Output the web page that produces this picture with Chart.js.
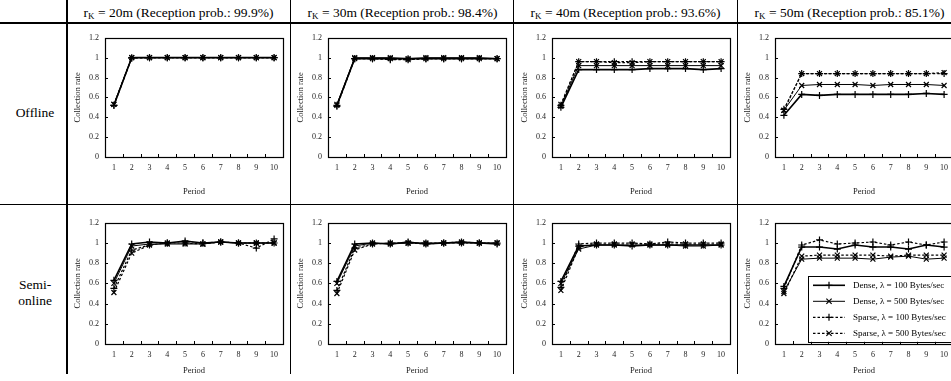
<!DOCTYPE html>
<html>
<head>
<meta charset="utf-8">
<script src="https://cdn.jsdelivr.net/npm/chart.js@4.4.0/dist/chart.umd.min.js"></script>
<style>
  body { margin: 0; width: 951px; height: 381px; overflow: hidden; background: #fff; position: relative; font-family: "Liberation Serif", "Times New Roman", serif; color: #000; }
  .hl { position: absolute; left: 0; width: 951px; background: #000; }
  .vl { position: absolute; top: 0; background: #000; }
  .head { position: absolute; top: 4px; width: 223px; text-align: center; font-size: 13.5px; line-height: 18px; white-space: nowrap; }
  .head sub { font-size: 9px; vertical-align: -2px; }
  .row { position: absolute; left: 0; width: 70px; text-align: center; font-size: 13.5px; line-height: 16px; }
  canvas { position: absolute; }
</style>
</head>
<body>
<div class="hl" style="top:22px;height:1.5px"></div>
<div class="hl" style="top:204px;height:1px"></div>
<div class="vl" style="left:66px;width:2px;height:374px"></div>
<div class="vl" style="left:290px;width:1px;height:374px"></div>
<div class="vl" style="left:513px;width:1px;height:374px"></div>
<div class="vl" style="left:737px;width:1px;height:374px"></div>

<div class="head" style="left:67px">r<sub>K</sub> = 20m (Reception prob.: 99.9%)</div>
<div class="head" style="left:291px">r<sub>K</sub> = 30m (Reception prob.: 98.4%)</div>
<div class="head" style="left:514px">r<sub>K</sub> = 40m (Reception prob.: 93.6%)</div>
<div class="head" style="left:738px">r<sub>K</sub> = 50m (Reception prob.: 85.1%)</div>

<div class="row" style="top:105px">Offline</div>
<div class="row" style="top:277px">Semi-<br>online</div>

<canvas id="c0" width="220" height="174" style="left:69px;top:27px"></canvas>
<canvas id="c1" width="220" height="174" style="left:292px;top:27px"></canvas>
<canvas id="c2" width="220" height="174" style="left:516px;top:27px"></canvas>
<canvas id="c3" width="220" height="174" style="left:739px;top:27px"></canvas>
<canvas id="c4" width="220" height="168" style="left:69px;top:212px"></canvas>
<canvas id="c5" width="220" height="168" style="left:292px;top:212px"></canvas>
<canvas id="c6" width="220" height="168" style="left:516px;top:212px"></canvas>
<canvas id="c7" width="220" height="168" style="left:739px;top:212px"></canvas>

<script>
const periods = ['1', '2', '3', '4', '5', '6', '7', '8', '9', '10'];
const seriesNames = [
  'Dense, \u03bb = 100 Bytes/sec',
  'Dense, \u03bb = 500 Bytes/sec',
  'Sparse, \u03bb = 100 Bytes/sec',
  'Sparse, \u03bb = 500 Bytes/sec'
];

// each panel: [dense100, dense500, sparse100, sparse500]
const offline20 = [
  [0.52, 1.00, 1.00, 1.00, 1.00, 1.00, 1.00, 1.00, 1.00, 1.00],
  [0.53, 1.00, 1.00, 1.00, 1.00, 1.00, 1.00, 1.00, 1.00, 1.00],
  [0.52, 0.995, 1.00, 1.00, 1.00, 1.00, 1.00, 1.00, 1.00, 1.00],
  [0.53, 1.00, 1.00, 1.00, 1.00, 1.00, 1.00, 1.00, 1.00, 1.00]
];
const offline30 = [
  [0.52, 0.99, 0.99, 0.99, 0.99, 0.99, 0.99, 0.99, 0.99, 0.99],
  [0.53, 1.00, 1.00, 1.00, 0.99, 1.00, 1.00, 1.00, 1.00, 0.99],
  [0.51, 0.99, 0.99, 0.98, 0.98, 0.99, 0.99, 0.99, 0.99, 0.99],
  [0.52, 0.99, 0.99, 0.99, 0.98, 0.99, 0.99, 0.99, 0.99, 0.99]
];
const offline40 = [
  [0.50, 0.88, 0.88, 0.88, 0.88, 0.89, 0.89, 0.89, 0.88, 0.89],
  [0.51, 0.92, 0.92, 0.92, 0.92, 0.92, 0.92, 0.92, 0.92, 0.92],
  [0.52, 0.96, 0.96, 0.96, 0.96, 0.96, 0.96, 0.96, 0.96, 0.96],
  [0.53, 0.96, 0.96, 0.95, 0.95, 0.96, 0.96, 0.96, 0.96, 0.96]
];
const offline50 = [
  [0.42, 0.63, 0.62, 0.63, 0.63, 0.63, 0.63, 0.63, 0.64, 0.63],
  [0.47, 0.72, 0.73, 0.73, 0.73, 0.72, 0.73, 0.73, 0.73, 0.72],
  [0.48, 0.84, 0.84, 0.84, 0.84, 0.84, 0.84, 0.84, 0.84, 0.84],
  [0.47, 0.84, 0.84, 0.84, 0.84, 0.84, 0.84, 0.84, 0.84, 0.85]
];
const semi20 = [
  [0.63, 0.99, 1.01, 1.00, 1.02, 1.00, 1.01, 1.00, 1.00, 1.00],
  [0.60, 0.97, 0.99, 0.99, 0.99, 0.99, 1.01, 1.00, 1.00, 1.00],
  [0.55, 0.93, 0.98, 1.00, 1.00, 1.00, 1.01, 1.00, 0.95, 1.04],
  [0.51, 0.90, 0.98, 1.00, 1.00, 0.99, 1.01, 1.00, 1.00, 1.00]
];
const semi30 = [
  [0.62, 0.99, 1.00, 0.99, 1.01, 0.99, 1.00, 1.01, 1.00, 0.99],
  [0.60, 0.97, 1.00, 0.99, 1.00, 1.00, 1.00, 1.00, 1.00, 1.00],
  [0.53, 0.95, 0.99, 1.00, 1.00, 1.00, 1.00, 1.00, 1.00, 1.00],
  [0.50, 0.93, 0.99, 1.00, 1.00, 0.99, 1.00, 1.01, 1.00, 1.00]
];
const semi40 = [
  [0.62, 0.97, 0.98, 0.98, 0.97, 0.98, 0.98, 0.98, 0.98, 0.98],
  [0.60, 0.94, 0.98, 0.98, 0.98, 0.98, 0.98, 0.97, 0.97, 0.98],
  [0.56, 0.99, 1.00, 1.00, 1.00, 0.99, 1.01, 1.00, 1.00, 1.00],
  [0.53, 0.96, 0.99, 0.99, 0.99, 0.99, 0.99, 0.99, 0.99, 0.99]
];
const semi50 = [
  [0.57, 0.96, 0.96, 0.94, 0.98, 0.96, 0.96, 0.94, 0.98, 0.96],
  [0.52, 0.84, 0.85, 0.85, 0.85, 0.84, 0.86, 0.87, 0.84, 0.85],
  [0.55, 0.98, 1.03, 0.99, 1.00, 1.01, 0.98, 1.01, 0.98, 1.01],
  [0.50, 0.87, 0.88, 0.88, 0.88, 0.88, 0.87, 0.88, 0.88, 0.88]
];

const FONT = '"Liberation Serif", "Times New Roman", serif';
const styles = [
  { borderWidth: 1.6, borderDash: [], pointStyle: 'cross' },
  { borderWidth: 1, borderDash: [], pointStyle: 'crossRot' },
  { borderWidth: 1.2, borderDash: [2.5, 2], pointStyle: 'cross' },
  { borderWidth: 1.2, borderDash: [2.5, 2], pointStyle: 'crossRot' }
];

// plot box and inward tick marks
const frame = {
  id: 'frame',
  beforeDatasetsDraw(chart) {
    const { ctx, chartArea: a, scales: { x, y } } = chart;
    ctx.save();
    ctx.strokeStyle = '#000';
    ctx.lineWidth = 1.2;
    ctx.strokeRect(Math.round(a.left) + 0.5, Math.round(a.top) + 0.5,
      Math.round(a.right - a.left), Math.round(a.bottom - a.top));
    ctx.lineWidth = 1;
    ctx.beginPath();
    for (let i = 1; i < x.ticks.length; i++) {
      const px = Math.round((x.getPixelForTick(i - 1) + x.getPixelForTick(i)) / 2) + 0.5;
      ctx.moveTo(px, a.bottom);
      ctx.lineTo(px, a.bottom - 3);
    }
    y.ticks.forEach((t, i) => {
      const py = Math.round(y.getPixelForTick(i)) + 0.5;
      ctx.moveTo(a.left, py);
      ctx.lineTo(a.left + 3, py);
    });
    ctx.stroke();
    ctx.restore();
  }
};

function marker(ctx, style, x, y, r) {
  ctx.beginPath();
  if (style === 'cross') {
    ctx.moveTo(x - r, y); ctx.lineTo(x + r, y);
    ctx.moveTo(x, y - r); ctx.lineTo(x, y + r);
  } else {
    const d = r * 0.75;
    ctx.moveTo(x - d, y - d); ctx.lineTo(x + d, y + d);
    ctx.moveTo(x + d, y - d); ctx.lineTo(x - d, y + d);
  }
  ctx.stroke();
}

// legend box inside the last panel
const boxLegend = {
  id: 'boxLegend',
  afterDraw(chart) {
    const { ctx, chartArea: a } = chart;
    const bx = a.left + 33, by = a.top + 53;
    ctx.save();
    ctx.fillStyle = '#fff';
    ctx.fillRect(bx, by, 160, 66);
    ctx.strokeStyle = '#000';
    ctx.lineWidth = 1;
    ctx.strokeRect(Math.round(bx) + 0.5, Math.round(by) + 0.5, 160, 66);
    chart.data.datasets.forEach((ds, i) => {
      const ly = by + 9.5 + i * 16;
      ctx.strokeStyle = '#000';
      ctx.lineWidth = ds.borderWidth;
      ctx.setLineDash(ds.borderDash);
      ctx.beginPath();
      ctx.moveTo(bx + 5, ly);
      ctx.lineTo(bx + 37, ly);
      ctx.stroke();
      ctx.setLineDash([]);
      ctx.lineWidth = 1.2;
      marker(ctx, ds.pointStyle, bx + 21, ly, 3.5);
      ctx.fillStyle = '#000';
      ctx.font = '9px ' + FONT;
      ctx.textBaseline = 'middle';
      ctx.fillText(ds.label, bx + 45, ly);
    });
    ctx.restore();
  }
};

function makeChart(id, values, xHeight, withLegend) {
  const datasets = values.map((vals, i) => ({
    label: seriesNames[i],
    data: vals,
    borderColor: '#000',
    backgroundColor: '#000',
    borderWidth: styles[i].borderWidth,
    borderDash: styles[i].borderDash,
    pointStyle: styles[i].pointStyle,
    pointRadius: 3.5,
    pointBorderWidth: 1.2,
    pointBorderColor: '#000',
    tension: 0
  }));
  new Chart(document.getElementById(id), {
    type: 'line',
    data: { labels: periods, datasets: datasets },
    options: {
      responsive: false,
      animation: false,
      events: [],
      layout: { padding: { top: 8, right: 6, left: 0, bottom: 0 } },
      plugins: { legend: { display: false }, tooltip: { enabled: false } },
      scales: {
        x: {
          offset: true,
          grid: { display: false, drawTicks: false },
          border: { display: false },
          ticks: { font: { family: FONT, size: 8 }, color: '#222', padding: 6, maxRotation: 0, autoSkip: false },
          title: { display: true, text: 'Period', font: { family: FONT, size: 8.5 }, color: '#222', padding: { top: 0, bottom: 4 } },
          afterFit: s => { s.height = xHeight; }
        },
        y: {
          min: 0,
          max: 1.2,
          grid: { display: false, drawTicks: false },
          border: { display: false },
          ticks: {
            stepSize: 0.2,
            font: { family: FONT, size: 8 },
            color: '#222',
            padding: 6,
            callback: v => String(Math.round(v * 10) / 10)
          },
          title: { display: true, text: 'Collection rate', font: { family: FONT, size: 8.5 }, color: '#222', padding: { top: 4, bottom: 0 } },
          afterFit: s => { s.width = 36; }
        }
      }
    },
    plugins: withLegend ? [frame, boxLegend] : [frame]
  });
}

makeChart('c0', offline20, 44, false);
makeChart('c1', offline30, 44, false);
makeChart('c2', offline40, 44, false);
makeChart('c3', offline50, 44, false);
makeChart('c4', semi20, 36, false);
makeChart('c5', semi30, 36, false);
makeChart('c6', semi40, 36, false);
makeChart('c7', semi50, 36, true);
</script>
</body>
</html>
